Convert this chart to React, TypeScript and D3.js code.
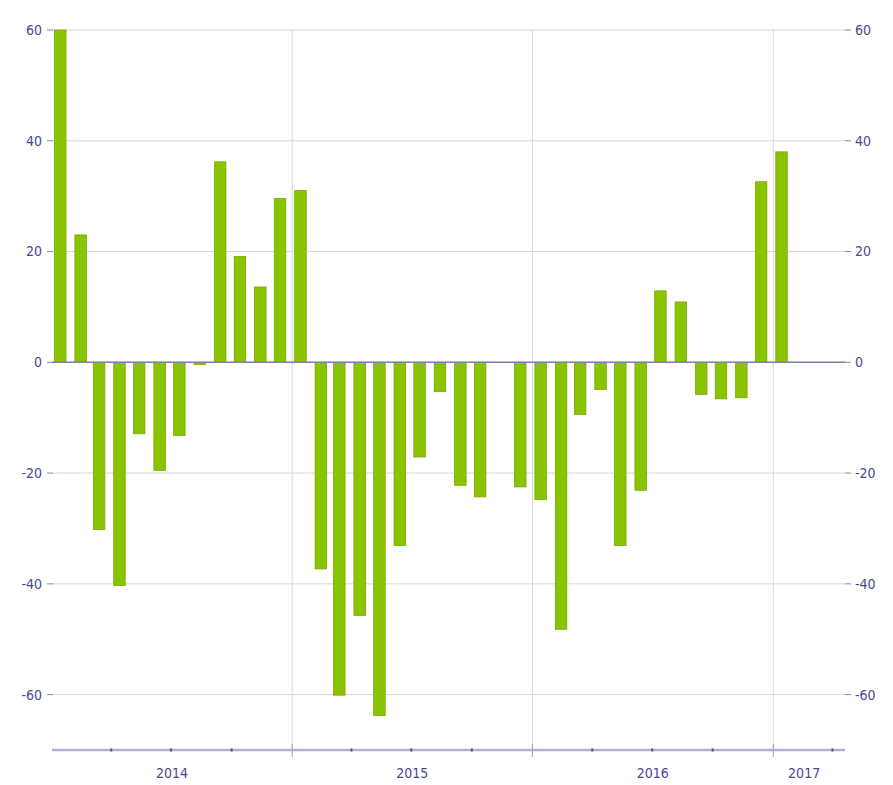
import React from "react";
import * as d3 from "d3";

const startYear = 2014;
const values: (number | null)[] = [
  60, 23, -30.2, -40.3, -12.9, -19.5, -13.2, -0.4, 36.2, 19.1, 13.6, 29.6,
  31, -37.3, -60.1, -45.7, -63.8, -33.1, -17.1, -5.3, -22.2, -24.3, null, -22.5,
  -24.8, -48.2, -9.4, -4.9, -33.1, -23.1, 12.9, 10.9, -5.8, -6.6, -6.4, 32.6,
  38,
];
const yTicks = [-60, -40, -20, 0, 20, 40, 60];
const yearLabels = ["2014", "2015", "2016", "2017"];

const W = 893;
const H = 785;
const left = 52;
const right = 845;
const top = 30;
const bottom = 750;

const domainStart = new Date(2014, 0, 1);
const domainEnd = new Date(2017, 3, 20);

export default function App() {
  const x = d3.scaleTime().domain([domainStart, domainEnd]).range([left, right]);
  const y = d3.scaleLinear().domain([-70, 60]).range([bottom, top]);

  const months = values.map((v, i) => ({
    date: new Date(startYear, i, 1),
    v,
  }));

  const yearStarts = [2015, 2016, 2017].map((yr) => new Date(yr, 0, 1));
  const quarterTicks = d3.timeMonth
    .every(3)!
    .range(new Date(2014, 3, 1), domainEnd);

  const labelColor = "#48488e";
  const font = "'DejaVu Sans Condensed', 'DejaVu Sans', sans-serif";

  const yearLabelPos = yearLabels.map((lab, i) => {
    const s = x(new Date(2014 + i, 0, 1));
    const e = Math.min(x(new Date(2015 + i, 0, 1)), right - 10);
    return { lab, cx: (s + e) / 2 };
  });

  return (
    <svg width={W} height={H} style={{ position: "absolute", left: 0, top: 0, background: "#fff" }}>
      {yTicks.map((t) => (
        <line key={"g" + t} x1={left} x2={right} y1={y(t)} y2={y(t)} stroke="#d6d6de" strokeWidth={1} />
      ))}
      {yearStarts.map((d, i) => (
        <line key={"vg" + i} x1={x(d)} x2={x(d)} y1={top} y2={bottom} stroke="#d6d6de" strokeWidth={1} />
      ))}
      {months
        .filter((m) => m.v !== null)
        .map((m, i) => {
          const v = m.v as number;
          const x0 = x(m.date) + 2.5;
          const w = 11.5;
          const y0 = y(Math.max(0, v));
          const h = Math.max(Math.abs(y(v) - y(0)), 1);
          return (
            <rect key={"b" + i} x={x0} y={y0} width={w} height={h} fill="#8ac400" stroke="#78a800" strokeWidth={0.8} />
          );
        })}
      <line x1={left} x2={right} y1={y(0)} y2={y(0)} stroke="#8080a4" strokeWidth={1.5} />
      <line x1={left} x2={right} y1={bottom} y2={bottom} stroke="#b0b0d0" strokeWidth={2.5} />
      {quarterTicks.map((d, i) => {
        const isYear = d.getMonth() === 0;
        return (
          <line
            key={"qt" + i}
            x1={x(d)}
            x2={x(d)}
            y1={isYear ? bottom - 6 : bottom - 1.5}
            y2={isYear ? bottom + 7 : bottom + 1.5}
            stroke={isYear ? "#a0a0b8" : "#555577"}
            strokeWidth={isYear ? 1 : 2}
          />
        );
      })}
      {yearLabelPos.map((p) => (
        <text key={p.lab} x={p.cx} y={778} textAnchor="middle" fontFamily={font} fontSize={14} fill={labelColor}>
          {p.lab}
        </text>
      ))}
      {yTicks.map((t) => (
        <g key={"l" + t}>
          <line x1={47} x2={53} y1={y(t)} y2={y(t)} stroke="#8888a8" strokeWidth={1} />
          <text x={42} y={y(t)} dy="0.35em" textAnchor="end" fontFamily={font} fontSize={14} fill={labelColor}>
            {t}
          </text>
        </g>
      ))}
      {yTicks.map((t) => (
        <g key={"r" + t}>
          <line x1={845} x2={851} y1={y(t)} y2={y(t)} stroke="#8888a8" strokeWidth={1} />
          <text x={855} y={y(t)} dy="0.35em" textAnchor="start" fontFamily={font} fontSize={14} fill={labelColor}>
            {t}
          </text>
        </g>
      ))}
    </svg>
  );
}
